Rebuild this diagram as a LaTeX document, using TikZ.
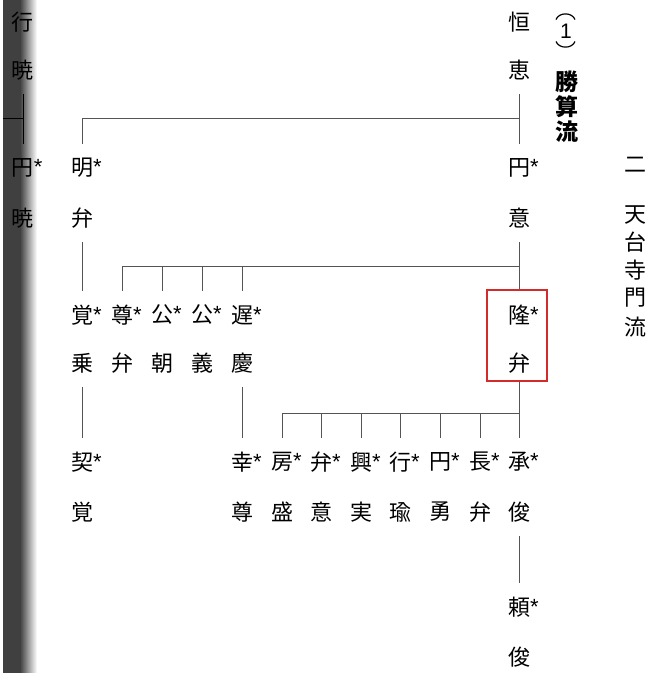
\documentclass[tikz,border=0pt]{standalone}
\usepackage{fontspec}
\setmainfont{Noto Sans CJK JP}
\newfontfamily\starfont{Liberation Sans}
\usetikzlibrary{calc}
\definecolor{band}{HTML}{404040}
\definecolor{ln}{HTML}{555555}
\definecolor{boxred}{HTML}{D42A2A}
\newcommand{\mystar}{\rlap{\raisebox{1pt}{\starfont *}}}
\tikzset{
  nm/.style={inner sep=0pt, minimum height=48pt, minimum width=30pt, font=\fontsize{22}{22}\selectfont},
  conn/.style={draw=ln, line width=1pt},
  lab/.style={inner sep=0pt, font=\fontsize{22}{22}\selectfont},
  blab/.style={inner sep=0pt, font=\fontsize{23}{23}\selectfont\bfseries},
  paren/.style={draw=black, line width=1.2pt},
}
\begin{document}
\begin{tikzpicture}[x=1pt,y=-1pt]
\useasboundingbox (0,0) rectangle (662,673);
% left shaded band
\fill[band] (3,0) rectangle (20,673);
\shade[left color=band, right color=white] (20,0) rectangle (37,673);
% row 1
\node[nm] (g1) at (23,22) {行};
\node[nm] (g2) at (23,70) {暁};
\node[nm] (k1) at (519,22) {恒};
\node[nm] (k2) at (519,70) {恵};
% row 2
\node[nm] (e1) at (23,168) {円\mystar};
\node[nm] (e2) at (23,218) {暁};
\node[nm] (m1) at (82,168) {明\mystar};
\node[nm] (m2) at (82,218) {弁};
\node[nm] (n1) at (519,168) {円\mystar};
\node[nm] (n2) at (519,218) {意};
% row 3
\node[nm] (a1) at (82,315) {覚\mystar};
\node[nm] (a2) at (82,363) {乗};
\node[nm] (b1) at (122,315) {尊\mystar};
\node[nm] (b2) at (122,363) {弁};
\node[nm] (c1) at (162,315) {公\mystar};
\node[nm] (c2) at (162,363) {朝};
\node[nm] (d1) at (202,315) {公\mystar};
\node[nm] (d2) at (202,363) {義};
\node[nm] (f1) at (242,315) {遅\mystar};
\node[nm] (f2) at (242,363) {慶};
\node[nm] (r1) at (519,315) {隆\mystar};
\node[nm] (r2) at (519,363) {弁};
\node[draw=boxred, line width=1.5pt, minimum width=60pt, minimum height=91pt, inner sep=0pt] (rb) at (517,335.5) {};
% row 4
\node[nm] (q1) at (82,462) {契\mystar};
\node[nm] (q2) at (82,512) {覚};
\node[nm] (s1) at (242,462) {幸\mystar};
\node[nm] (s2) at (242,512) {尊};
\node[nm] (t1) at (282,462) {房\mystar};
\node[nm] (t2) at (282,512) {盛};
\node[nm] (u1) at (321,462) {弁\mystar};
\node[nm] (u2) at (321,512) {意};
\node[nm] (v1) at (361,462) {興\mystar};
\node[nm] (v2) at (361,512) {実};
\node[nm] (w1) at (400,462) {行\mystar};
\node[nm] (w2) at (400,512) {瑜};
\node[nm] (x1) at (440,462) {円\mystar};
\node[nm] (x2) at (440,512) {勇};
\node[nm] (y1) at (480,462) {長\mystar};
\node[nm] (y2) at (480,512) {弁};
\node[nm] (z1) at (519,462) {承\mystar};
\node[nm] (z2) at (519,512) {俊};
% row 5
\node[nm] (l1) at (519,607) {頼\mystar};
\node[nm] (l2) at (519,657) {俊};
% right labels
\draw[paren] (556,19.5) .. controls (559,12) and (572,12) .. (575,19.5);
\node[lab, font=\fontsize{21}{21}\starfont] (p2) at (566,31) {1};
\draw[paren] (556,41.5) .. controls (559,49) and (572,49) .. (575,41.5);
\node[blab] (h1) at (567,82) {勝};
\node[blab] (h2) at (567,107) {算};
\node[blab] (h3) at (567,132) {流};
\node[lab] (t0) at (635,165) {二};
\node[lab] (ta) at (635,215) {天};
\node[lab] (tb) at (635,242) {台};
\node[lab] (tc) at (635,270) {寺};
\node[lab] (td) at (635,298) {門};
\node[lab] (te) at (635,327) {流};
% junction levels
\coordinate (j0) at (3,118);
\coordinate (j1) at (0,118);
\coordinate (j2) at (0,266);
\coordinate (j3) at (0,413);
% connectors
\draw[conn, draw=black] (g2.south) -- (e1.north);
\draw[conn, draw=black] (j0) -- (j0 -| g2.south);
\draw[conn] (k2.south) -- (n1.north);
\draw[conn] (m1.north) |- (n1.north |- j1);
\draw[conn] (m2.south) -- (a1.north);
\draw[conn] (n2.south) -- (n2.south |- rb.north);
\draw[conn] (b1.north) |- (n2.south |- j2);
\foreach \p in {c1,d1,f1} {\draw[conn] (\p.north) -- (\p.north |- j2);}
\draw[conn] (a2.south) -- (q1.north);
\draw[conn] (f2.south) -- (s1.north);
\draw[conn] (z1.north |- rb.south) -- (z1.north);
\draw[conn] (t1.north) |- (z1.north |- j3);
\foreach \p in {u1,v1,w1,x1,y1} {\draw[conn] (\p.north) -- (\p.north |- j3);}
\draw[conn] (z2.south) -- (l1.north);
\end{tikzpicture}
\end{document}
